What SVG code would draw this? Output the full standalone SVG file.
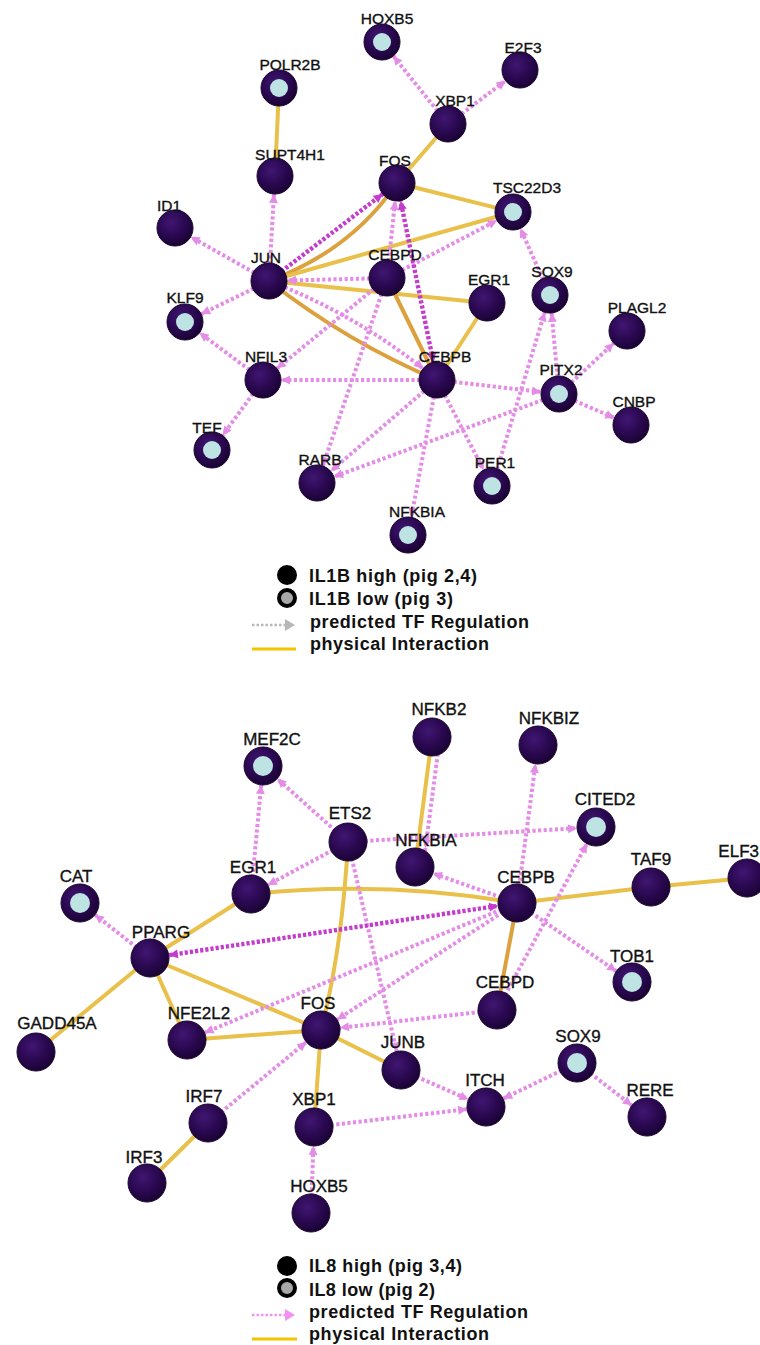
<svg xmlns="http://www.w3.org/2000/svg" width="760" height="1345" viewBox="0 0 760 1345">
<style>
.pd{stroke:#e38de6;stroke-width:4;stroke-dasharray:3.2 2.4;fill:none}
.md{stroke:#c43ccb;stroke-width:4.4;stroke-dasharray:3.2 2;fill:none}
.y{stroke:#e8c04a;stroke-width:4;fill:none;stroke-linecap:round}
.o{stroke:#dca03c;stroke-width:4;fill:none;stroke-linecap:round}
.n{fill:url(#ng);stroke:#1a0430;stroke-width:1}
.lo{fill:#bde3e3}
.t{font-family:"Liberation Sans",Arial,sans-serif;font-size:15.5px;fill:#111;stroke:#111;stroke-width:0.35;text-anchor:middle}
.b .t{font-size:17px}
.lg{font-family:"Liberation Sans",Arial,sans-serif;font-size:18px;font-weight:bold;fill:#111}
</style>
<defs>
<radialGradient id="ng" cx="40%" cy="35%" r="65%">
<stop offset="0" stop-color="#401672"/>
<stop offset="0.6" stop-color="#2a0850"/>
<stop offset="1" stop-color="#1a0334"/>
</radialGradient>
<marker id="ap" markerUnits="userSpaceOnUse" markerWidth="10" markerHeight="10" refX="27" refY="5" orient="auto-start-reverse" overflow="visible"><path d="M0,0.5 L9,5 L0,9.5 z" fill="#e38de6"/></marker>
<marker id="am" markerUnits="userSpaceOnUse" markerWidth="10" markerHeight="10" refX="27" refY="5" orient="auto-start-reverse" overflow="visible"><path d="M0,0.5 L9,5 L0,9.5 z" fill="#c43ccb"/></marker>
<marker id="bp" markerUnits="userSpaceOnUse" markerWidth="10" markerHeight="10" refX="28" refY="5" orient="auto-start-reverse" overflow="visible"><path d="M0,0.5 L9,5 L0,9.5 z" fill="#e38de6"/></marker>
<marker id="bm" markerUnits="userSpaceOnUse" markerWidth="10" markerHeight="10" refX="28" refY="5" orient="auto-start-reverse" overflow="visible"><path d="M0,0.5 L9,5 L0,9.5 z" fill="#c43ccb"/></marker>
</defs>

<g id="connectors-top">
<line class="y" x1="279" y1="88" x2="275" y2="176"/>
<line class="y" x1="448" y1="124" x2="397" y2="183"/>
<line class="y" x1="397" y1="183" x2="513" y2="212"/>
<path class="o" d="M269,281 Q352,250 397,183"/>
<line class="y" x1="269" y1="281" x2="513" y2="212"/>
<line class="y" x1="269" y1="281" x2="487" y2="303"/>
<path class="o" d="M269,281 Q347,342 437,380"/>
<line class="o" x1="387" y1="278" x2="437" y2="380"/>
<line class="y" x1="487" y1="303" x2="437" y2="380"/>

<line class="pd" x1="448" y1="124" x2="382" y2="42" marker-end="url(#ap)"/>
<line class="pd" x1="448" y1="124" x2="520" y2="70" marker-end="url(#ap)"/>
<line class="pd" x1="269" y1="281" x2="275" y2="176" marker-end="url(#ap)"/>
<line class="pd" x1="269" y1="281" x2="175" y2="228" marker-end="url(#ap)"/>
<line class="pd" x1="269" y1="281" x2="185" y2="322" marker-end="url(#ap)"/>
<line class="pd" x1="387" y1="278" x2="269" y2="281" marker-end="url(#ap)"/>
<path class="pd" d="M269,281 Q361,316 437,380" marker-end="url(#ap)"/>
<line class="pd" x1="387" y1="278" x2="397" y2="183" marker-end="url(#ap)"/>
<line class="pd" x1="387" y1="278" x2="513" y2="212" marker-end="url(#ap)"/>
<line class="pd" x1="550" y1="295" x2="513" y2="212" marker-end="url(#ap)"/>
<line class="pd" x1="559" y1="394" x2="550" y2="295" marker-end="url(#ap)"/>
<line class="pd" x1="492" y1="486" x2="550" y2="295" marker-end="url(#ap)"/>
<line class="pd" x1="559" y1="394" x2="627" y2="331" marker-end="url(#ap)"/>
<line class="pd" x1="559" y1="394" x2="631" y2="425" marker-end="url(#ap)"/>
<line class="pd" x1="559" y1="394" x2="317" y2="483" marker-end="url(#ap)"/>
<line class="pd" x1="437" y1="380" x2="559" y2="394" marker-end="url(#ap)"/>
<line class="pd" x1="437" y1="380" x2="263" y2="380" marker-end="url(#ap)"/>
<line class="pd" x1="437" y1="380" x2="317" y2="483" marker-end="url(#ap)"/>
<line class="pd" x1="437" y1="380" x2="408" y2="535" marker-end="url(#ap)"/>
<line class="pd" x1="437" y1="380" x2="492" y2="486" marker-end="url(#ap)"/>
<line class="pd" x1="387" y1="278" x2="263" y2="380" marker-end="url(#ap)"/>
<line class="pd" x1="387" y1="278" x2="317" y2="483" marker-end="url(#ap)"/>
<line class="pd" x1="263" y1="380" x2="185" y2="322" marker-end="url(#ap)"/>
<line class="pd" x1="263" y1="380" x2="212" y2="450" marker-end="url(#ap)"/>
<line class="md" x1="269" y1="281" x2="397" y2="183" marker-end="url(#am)"/>
<line class="md" x1="437" y1="380" x2="397" y2="183" marker-start="url(#am)" marker-end="url(#am)"/>
</g>

<g id="nodes-top">
<g id="t-HOXB5"><circle class="n" cx="382" cy="42" r="18"/><circle class="lo" cx="382" cy="42" r="9"/><text class="t" x="387" y="24">HOXB5</text></g>
<g id="t-E2F3"><circle class="n" cx="520" cy="70" r="18"/><text class="t" x="523" y="53">E2F3</text></g>
<g id="t-POLR2B"><circle class="n" cx="279" cy="88" r="18"/><circle class="lo" cx="279" cy="88" r="9"/><text class="t" x="290" y="70">POLR2B</text></g>
<g id="t-XBP1"><circle class="n" cx="448" cy="124" r="18"/><text class="t" x="455" y="106">XBP1</text></g>
<g id="t-SUPT4H1"><circle class="n" cx="275" cy="176" r="18"/><text class="t" x="290" y="160">SUPT4H1</text></g>
<g id="t-FOS"><circle class="n" cx="397" cy="183" r="18"/><text class="t" x="395" y="166">FOS</text></g>
<g id="t-TSC22D3"><circle class="n" cx="513" cy="212" r="18"/><circle class="lo" cx="513" cy="212" r="9"/><text class="t" x="527" y="193">TSC22D3</text></g>
<g id="t-ID1"><circle class="n" cx="175" cy="228" r="18"/><text class="t" x="169" y="211">ID1</text></g>
<g id="t-JUN"><circle class="n" cx="269" cy="281" r="18"/><text class="t" x="266" y="263">JUN</text></g>
<g id="t-CEBPD"><circle class="n" cx="387" cy="278" r="18"/><text class="t" x="395" y="260">CEBPD</text></g>
<g id="t-EGR1"><circle class="n" cx="487" cy="303" r="18"/><text class="t" x="489" y="285">EGR1</text></g>
<g id="t-SOX9"><circle class="n" cx="550" cy="295" r="18"/><circle class="lo" cx="550" cy="295" r="9"/><text class="t" x="552" y="277">SOX9</text></g>
<g id="t-KLF9"><circle class="n" cx="185" cy="322" r="18"/><circle class="lo" cx="185" cy="322" r="9"/><text class="t" x="185" y="303">KLF9</text></g>
<g id="t-PLAGL2"><circle class="n" cx="627" cy="331" r="18"/><text class="t" x="637" y="313">PLAGL2</text></g>
<g id="t-NFIL3"><circle class="n" cx="263" cy="380" r="18"/><text class="t" x="266" y="362">NFIL3</text></g>
<g id="t-CEBPB"><circle class="n" cx="437" cy="380" r="18"/><text class="t" x="445" y="362">CEBPB</text></g>
<g id="t-PITX2"><circle class="n" cx="559" cy="394" r="18"/><circle class="lo" cx="559" cy="394" r="9"/><text class="t" x="561" y="375">PITX2</text></g>
<g id="t-CNBP"><circle class="n" cx="631" cy="425" r="18"/><text class="t" x="634" y="407">CNBP</text></g>
<g id="t-TEF"><circle class="n" cx="212" cy="450" r="18"/><circle class="lo" cx="212" cy="450" r="9"/><text class="t" x="207" y="433">TEF</text></g>
<g id="t-RARB"><circle class="n" cx="317" cy="483" r="18"/><text class="t" x="320" y="465">RARB</text></g>
<g id="t-PER1"><circle class="n" cx="492" cy="486" r="18"/><circle class="lo" cx="492" cy="486" r="9"/><text class="t" x="495" y="468">PER1</text></g>
<g id="t-NFKBIA"><circle class="n" cx="408" cy="535" r="18"/><circle class="lo" cx="408" cy="535" r="9"/><text class="t" x="417" y="517">NFKBIA</text></g>
</g>

<g id="legend-top">
<circle cx="287" cy="575" r="10" fill="#000"/>
<circle cx="287" cy="598" r="8" fill="#a8a8a8" stroke="#000" stroke-width="4"/>
<line x1="252" y1="625" x2="285" y2="625" stroke="#b8b8b8" stroke-width="2.5" stroke-dasharray="2.5 2"/>
<path d="M285,619 L295,625 L285,631 z" fill="#b8b8b8"/>
<line x1="252" y1="649" x2="296" y2="649" stroke="#f5c400" stroke-width="3"/>
<text class="lg" x="309" y="582" textLength="168" lengthAdjust="spacing">IL1B high (pig 2,4)</text>
<text class="lg" x="309" y="605" textLength="144" lengthAdjust="spacing">IL1B low (pig 3)</text>
<text class="lg" x="310" y="628" textLength="219" lengthAdjust="spacing">predicted TF Regulation</text>
<text class="lg" x="310" y="650" textLength="179" lengthAdjust="spacing">physical Interaction</text>
</g>

<g id="connectors-bottom">
<line class="y" x1="432" y1="737" x2="415" y2="867"/>
<path class="y" d="M348,842 Q342,950 321,1030"/>
<line class="y" x1="251" y1="894" x2="150" y2="958"/>
<path class="y" d="M251,894 Q385,880 517,903"/>
<line class="y" x1="517" y1="903" x2="651" y2="887"/>
<line class="y" x1="651" y1="887" x2="747" y2="878"/>
<line class="o" x1="517" y1="903" x2="497" y2="1010"/>
<line class="y" x1="150" y1="958" x2="36" y2="1052"/>
<line class="y" x1="150" y1="958" x2="187" y2="1040"/>
<line class="y" x1="150" y1="958" x2="321" y2="1030"/>
<line class="y" x1="187" y1="1040" x2="321" y2="1030"/>
<line class="y" x1="321" y1="1030" x2="401" y2="1070"/>
<line class="y" x1="321" y1="1030" x2="314" y2="1127"/>
<line class="y" x1="208" y1="1123" x2="147" y2="1183"/>

<line class="pd" x1="440" y1="737" x2="423" y2="867" marker-end="url(#bp)"/>
<line class="pd" x1="517" y1="903" x2="538" y2="745" marker-end="url(#bp)"/>
<line class="pd" x1="348" y1="842" x2="596" y2="827" marker-end="url(#bp)"/>
<line class="pd" x1="251" y1="894" x2="263" y2="766" marker-end="url(#bp)"/>
<line class="pd" x1="348" y1="842" x2="263" y2="766" marker-end="url(#bp)"/>
<line class="pd" x1="348" y1="842" x2="251" y2="894" marker-end="url(#bp)"/>
<line class="pd" x1="348" y1="842" x2="401" y2="1070" marker-end="url(#bp)"/>
<line class="pd" x1="517" y1="903" x2="415" y2="867" marker-end="url(#bp)"/>
<line class="pd" x1="517" y1="903" x2="187" y2="1040" marker-end="url(#bp)"/>
<line class="pd" x1="517" y1="903" x2="321" y2="1030" marker-end="url(#bp)"/>
<line class="pd" x1="497" y1="1010" x2="321" y2="1030" marker-end="url(#bp)"/>
<line class="pd" x1="497" y1="1010" x2="596" y2="827" marker-end="url(#bp)"/>
<line class="pd" x1="517" y1="903" x2="632" y2="982" marker-end="url(#bp)"/>
<line class="pd" x1="401" y1="1070" x2="486" y2="1107" marker-end="url(#bp)"/>
<line class="pd" x1="314" y1="1127" x2="486" y2="1107" marker-end="url(#bp)"/>
<line class="pd" x1="577" y1="1063" x2="486" y2="1107" marker-end="url(#bp)"/>
<line class="pd" x1="577" y1="1063" x2="647" y2="1117" marker-end="url(#bp)"/>
<line class="pd" x1="208" y1="1123" x2="321" y2="1030" marker-end="url(#bp)"/>
<line class="pd" x1="311" y1="1213" x2="314" y2="1127" marker-end="url(#bp)"/>
<line class="pd" x1="150" y1="958" x2="80" y2="903" marker-end="url(#bp)"/>
<line class="md" x1="517" y1="903" x2="150" y2="958" marker-start="url(#bm)" marker-end="url(#bm)"/>
</g>

<g id="nodes-bottom" class="b">
<g id="b-NFKB2"><circle class="n" cx="432" cy="737" r="19"/><text class="t" x="439" y="715">NFKB2</text></g>
<g id="b-NFKBIZ"><circle class="n" cx="538" cy="745" r="19"/><text class="t" x="549" y="724">NFKBIZ</text></g>
<g id="b-MEF2C"><circle class="n" cx="263" cy="766" r="19"/><circle class="lo" cx="263" cy="766" r="10"/><text class="t" x="272" y="745">MEF2C</text></g>
<g id="b-CITED2"><circle class="n" cx="596" cy="827" r="19"/><circle class="lo" cx="596" cy="827" r="10"/><text class="t" x="605" y="805">CITED2</text></g>
<g id="b-ETS2"><circle class="n" cx="348" cy="842" r="19"/><text class="t" x="350" y="819">ETS2</text></g>
<g id="b-NFKBIA"><circle class="n" cx="415" cy="867" r="19"/><text class="t" x="426" y="846">NFKBIA</text></g>
<g id="b-EGR1"><circle class="n" cx="251" cy="894" r="19"/><text class="t" x="253" y="873">EGR1</text></g>
<g id="b-CEBPB"><circle class="n" cx="517" cy="903" r="19"/><text class="t" x="526" y="883">CEBPB</text></g>
<g id="b-TAF9"><circle class="n" cx="651" cy="887" r="19"/><text class="t" x="651" y="865">TAF9</text></g>
<g id="b-ELF3"><circle class="n" cx="747" cy="878" r="19"/><text class="t" x="759" y="857" style="text-anchor:end">ELF3</text></g>
<g id="b-CAT"><circle class="n" cx="80" cy="903" r="19"/><circle class="lo" cx="80" cy="903" r="10"/><text class="t" x="76" y="882">CAT</text></g>
<g id="b-PPARG"><circle class="n" cx="150" cy="958" r="19"/><text class="t" x="161" y="938">PPARG</text></g>
<g id="b-GADD45A"><circle class="n" cx="36" cy="1052" r="19"/><text class="t" x="57" y="1029">GADD45A</text></g>
<g id="b-NFE2L2"><circle class="n" cx="187" cy="1040" r="19"/><text class="t" x="199" y="1019">NFE2L2</text></g>
<g id="b-FOS"><circle class="n" cx="321" cy="1030" r="19"/><text class="t" x="318" y="1009">FOS</text></g>
<g id="b-CEBPD"><circle class="n" cx="497" cy="1010" r="19"/><text class="t" x="505" y="988">CEBPD</text></g>
<g id="b-TOB1"><circle class="n" cx="632" cy="982" r="19"/><circle class="lo" cx="632" cy="982" r="10"/><text class="t" x="632" y="962">TOB1</text></g>
<g id="b-JUNB"><circle class="n" cx="401" cy="1070" r="19"/><text class="t" x="403" y="1048">JUNB</text></g>
<g id="b-SOX9"><circle class="n" cx="577" cy="1063" r="19"/><circle class="lo" cx="577" cy="1063" r="10"/><text class="t" x="578" y="1042">SOX9</text></g>
<g id="b-ITCH"><circle class="n" cx="486" cy="1107" r="19"/><text class="t" x="485" y="1086">ITCH</text></g>
<g id="b-RERE"><circle class="n" cx="647" cy="1117" r="19"/><text class="t" x="650" y="1096">RERE</text></g>
<g id="b-IRF7"><circle class="n" cx="208" cy="1123" r="19"/><text class="t" x="204" y="1102">IRF7</text></g>
<g id="b-XBP1"><circle class="n" cx="314" cy="1127" r="19"/><text class="t" x="314" y="1105">XBP1</text></g>
<g id="b-IRF3"><circle class="n" cx="147" cy="1183" r="19"/><text class="t" x="144" y="1163">IRF3</text></g>
<g id="b-HOXB5"><circle class="n" cx="311" cy="1213" r="19"/><text class="t" x="319" y="1192">HOXB5</text></g>
</g>

<g id="legend-bottom">
<circle cx="287" cy="1266" r="10" fill="#000"/>
<circle cx="287" cy="1288" r="8" fill="#a8a8a8" stroke="#000" stroke-width="4"/>
<line x1="252" y1="1315" x2="285" y2="1315" stroke="#f291f2" stroke-width="2.5" stroke-dasharray="2.5 2"/>
<path d="M285,1309 L295,1315 L285,1321 z" fill="#f291f2"/>
<line x1="252" y1="1339" x2="297" y2="1339" stroke="#f5c400" stroke-width="3"/>
<text class="lg" x="309" y="1272" textLength="153" lengthAdjust="spacing">IL8 high (pig 3,4)</text>
<text class="lg" x="309" y="1296" textLength="126" lengthAdjust="spacing">IL8 low (pig 2)</text>
<text class="lg" x="309" y="1318" textLength="219" lengthAdjust="spacing">predicted TF Regulation</text>
<text class="lg" x="309" y="1340" textLength="180" lengthAdjust="spacing">physical Interaction</text>
</g>
</svg>
